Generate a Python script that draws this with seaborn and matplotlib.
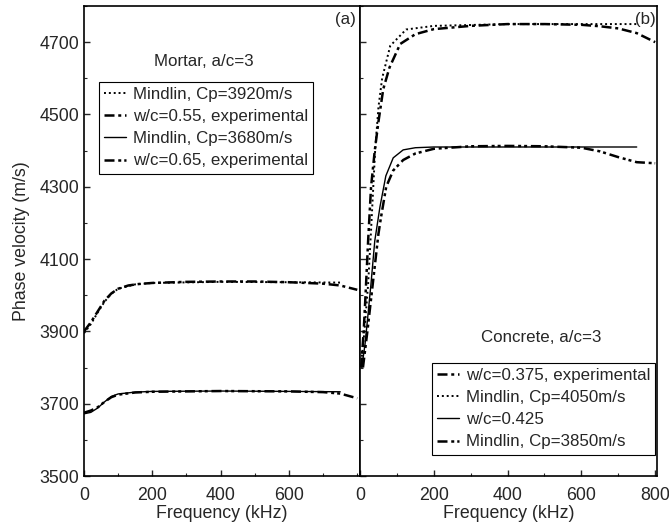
import matplotlib
matplotlib.use("Agg")
import matplotlib.pyplot as plt
from matplotlib.ticker import MultipleLocator, FixedLocator
import seaborn as sns
import pandas as pd

sns.set_style("ticks")
plt.rcParams['font.family'] = ['Liberation Sans', 'DejaVu Sans']
plt.rcParams['font.size'] = 12.2

# ---- Mortar (a) ----
mortar_exp055_f = [0, 20, 40, 60, 80, 100, 130, 160, 200, 300, 400, 500, 600, 700, 750, 800]
mortar_exp055_v = [3900, 3925, 3955, 3985, 4005, 4018, 4027, 4031, 4034, 4037, 4038, 4038, 4036, 4032, 4027, 4015]
mortar_m3920_f = [0, 20, 40, 60, 80, 100, 150, 200, 400, 600, 750]
mortar_m3920_v = [3895, 3920, 3952, 3982, 4004, 4018, 4030, 4034, 4037, 4036, 4035]
mortar_exp065_f = [0, 20, 40, 60, 80, 100, 150, 200, 400, 600, 700, 750, 800]
mortar_exp065_v = [3675, 3681, 3690, 3705, 3718, 3725, 3731, 3733, 3735, 3734, 3732, 3728, 3715]
mortar_m3680_f = [0, 20, 40, 60, 80, 100, 150, 200, 400, 600, 750]
mortar_m3680_v = [3672, 3676, 3688, 3705, 3720, 3727, 3732, 3734, 3735, 3734, 3733]

# ---- Concrete (b) ----
conc_exp0375_f = [3, 10, 15, 22, 30, 40, 50, 63, 80, 109, 150, 200, 300, 400, 500, 600, 650, 700, 750, 800]
conc_exp0375_v = [3800, 3900, 4000, 4150, 4300, 4400, 4480, 4570, 4630, 4695, 4722, 4736, 4745, 4750, 4750, 4748, 4744, 4738, 4725, 4700]
conc_m4050_f = [5, 12, 22, 30, 41, 50, 60, 82, 125, 200, 400, 600, 750]
conc_m4050_v = [3830, 3900, 4030, 4180, 4400, 4520, 4600, 4690, 4735, 4745, 4750, 4750, 4750]
conc_w0425_f = [5, 14, 22, 30, 40, 54, 70, 90, 117, 150, 200, 400, 600, 750]
conc_w0425_v = [3800, 3868, 3950, 4034, 4150, 4244, 4330, 4380, 4402, 4408, 4410, 4410, 4410, 4410]
conc_m3850_f = [8, 20, 30, 40, 50, 57, 71, 90, 117, 150, 200, 300, 400, 500, 600, 650, 700, 750, 800]
conc_m3850_v = [3800, 3900, 3990, 4080, 4170, 4216, 4300, 4345, 4374, 4392, 4405, 4412, 4413, 4412, 4408, 4398, 4382, 4368, 4365]

DOT = (0, (1, 1.5))
DASHDOT = (0, (4, 1.5, 1.2, 1.5))
DASHDOTDOT = (0, (4, 1.5, 1.2, 1.2, 1.2, 1.5))

TICK_FS = 12.8
LABEL_FS = 12.8
TEXT_FS = 12.2

fig = plt.figure(figsize=(6.69, 5.27), dpi=100)
axA = fig.add_axes([84/669, 1-476/527, (360-84)/669, 470/527])
axB = fig.add_axes([360/669, 1-476/527, (657-360)/669, 470/527])

def draw(ax, f, v, label, ls, lw):
    df = pd.DataFrame({"f": f, "v": v})
    sns.lineplot(data=df, x="f", y="v", ax=ax, color="black", linestyle=ls,
                 linewidth=lw, label=label, sort=False, estimator=None)

draw(axA, mortar_m3920_f, mortar_m3920_v, "Mindlin, Cp=3920m/s", DOT, 1.4)
draw(axA, mortar_exp055_f, mortar_exp055_v, "w/c=0.55, experimental", DASHDOT, 1.8)
draw(axA, mortar_m3680_f, mortar_m3680_v, "Mindlin, Cp=3680m/s", "-", 1.0)
draw(axA, mortar_exp065_f, mortar_exp065_v, "w/c=0.65, experimental", DASHDOTDOT, 1.8)

draw(axB, conc_exp0375_f, conc_exp0375_v, "w/c=0.375, experimental", DASHDOT, 1.8)
draw(axB, conc_m4050_f, conc_m4050_v, "Mindlin, Cp=4050m/s", DOT, 1.4)
draw(axB, conc_w0425_f, conc_w0425_v, "w/c=0.425", "-", 1.0)
draw(axB, conc_m3850_f, conc_m3850_v, "Mindlin, Cp=3850m/s", DASHDOTDOT, 1.8)

for ax, xmax, xt in ((axA, 808, [0, 200, 400, 600]), (axB, 805, [0, 200, 400, 600, 800])):
    ax.set_xlim(0, xmax)
    ax.set_ylim(3500, 4800)
    ax.xaxis.set_major_locator(FixedLocator(xt))
    ax.xaxis.set_minor_locator(MultipleLocator(100))
    ax.yaxis.set_major_locator(FixedLocator([3500, 3700, 3900, 4100, 4300, 4500, 4700]))
    ax.yaxis.set_minor_locator(MultipleLocator(100))
    ax.tick_params(which="both", direction="in", top=False, right=False, labelsize=TICK_FS)
    ax.tick_params(which="major", length=4, width=1)
    ax.tick_params(axis="x", which="major", pad=8)
    ax.tick_params(axis="y", which="major", pad=3.5)
    ax.tick_params(which="minor", length=2.5, width=0.8)
    for s in ax.spines.values():
        s.set_visible(True)
        s.set_linewidth(1.2)
        s.set_color("black")
    ax.set_xlabel("Frequency (kHz)", fontsize=LABEL_FS, labelpad=1)

axB.tick_params(labelleft=False)
axB.set_ylabel("")
axA.set_ylabel("Phase velocity (m/s)", fontsize=LABEL_FS, labelpad=7)

axA.text(0.985, 0.988, "(a)", transform=axA.transAxes, ha="right", va="top", fontsize=TEXT_FS)
axB.text(0.997, 0.988, "(b)", transform=axB.transAxes, ha="right", va="top", fontsize=TEXT_FS)
fig.text(204/669, 1-62/527, "Mortar, a/c=3", ha="center", va="center", fontsize=TEXT_FS)
fig.text(541/669, 1-338/527, "Concrete, a/c=3", ha="center", va="center", fontsize=TEXT_FS)

legkw = dict(frameon=True, fancybox=False, edgecolor="black", fontsize=TEXT_FS,
             handlelength=1.3, handletextpad=0.4, borderpad=0.3, labelspacing=0.42,
             borderaxespad=0.0, loc="upper left")
lA = axA.legend(bbox_to_anchor=(99/669, 1-82/527), bbox_transform=fig.transFigure, **legkw)
lB = axB.legend(bbox_to_anchor=(432/669, 1-363/527), bbox_transform=fig.transFigure, **legkw)
for l in (lA, lB):
    l.get_frame().set_linewidth(0.8)
    l.get_frame().set_alpha(1)

fig.savefig("out.png", dpi=100)
